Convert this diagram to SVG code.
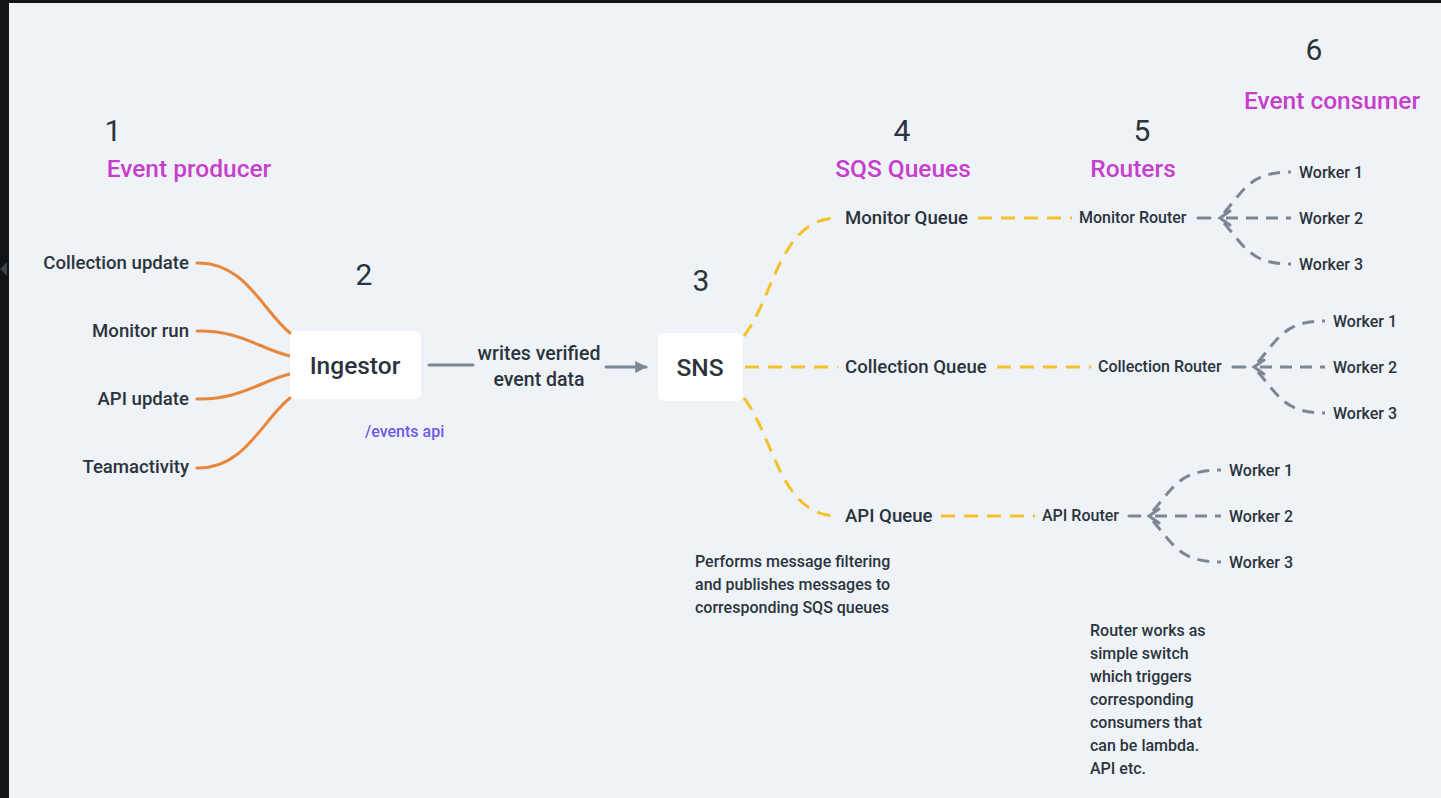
<svg xmlns="http://www.w3.org/2000/svg" width="1441" height="798" viewBox="0 0 1441 798">
<defs>
<style>
.t{font-family:Roboto,"Liberation Sans",sans-serif;fill:#2b333d;font-weight:500}
.num{font-size:30px;font-weight:400}
.hd{font-size:24.5px;fill:#c63fcc}
.lb{font-size:18.6px}
.sm{font-size:16px}
.or{fill:none;stroke:#e8873c;stroke-width:3;stroke-linecap:round}
.ye{fill:none;stroke:#f5c12b;stroke-width:3;stroke-dasharray:14 9}
.gr{fill:none;stroke:#7b8794;stroke-width:3;stroke-dasharray:12 8}
.gs{fill:none;stroke:#7b8794;stroke-width:3;stroke-linecap:round}
.box{fill:#ffffff}
</style>
<marker id="ah" viewBox="0 0 10 10" refX="9" refY="5" markerWidth="4" markerHeight="4" orient="auto"><path d="M0,0 L10,5 L0,10 z" fill="#7b8794"/></marker>
</defs>
<rect x="0" y="0" width="1441" height="798" fill="#eff3f7"/>
<rect x="0" y="0" width="1441" height="3" fill="#0e1418"/>
<rect x="0" y="0" width="9" height="798" fill="#0e1418"/>
<path d="M7,262 L0,269 L7,276 z" fill="#3c434a"/>

<g id="headers">
<text class="t num" x="113" y="141" text-anchor="middle">1</text>
<text class="t hd" x="189" y="177" text-anchor="middle">Event producer</text>
<text class="t num" x="364" y="285" text-anchor="middle">2</text>
<text class="t num" x="701" y="291" text-anchor="middle">3</text>
<text class="t num" x="902" y="141" text-anchor="middle">4</text>
<text class="t hd" x="903" y="177" text-anchor="middle">SQS Queues</text>
<text class="t num" x="1142" y="141" text-anchor="middle">5</text>
<text class="t hd" x="1133" y="177" text-anchor="middle">Routers</text>
<text class="t num" x="1314" y="60" text-anchor="middle">6</text>
<text class="t hd" x="1332" y="109" text-anchor="middle">Event consumer</text>
</g>

<g id="connectors">
<path class="or" d="M197,263 C245,262 262,310 290,333"/>
<path class="or" d="M197,331 C240,330 260,349 290,356"/>
<path class="or" d="M197,399 C240,400 260,381 290,374"/>
<path class="or" d="M197,468 C245,469 262,420 290,398"/>
<path class="gs" d="M429,365 L473,365"/>
<path class="gs" d="M606,367 L646,367" marker-end="url(#ah)"/>
<path class="ye" d="M744,336 C775,295 780,218 838,218"/>
<path class="ye" d="M745,367 L838,367"/>
<path class="ye" d="M744,398 C775,439 780,516 838,516"/>
<path class="ye" d="M978,218 L1072,218"/>
<path class="ye" d="M997,367 L1091,367"/>
<path class="ye" d="M941,516 L1035,516"/>
<path class="gs" d="M1198,218 L1210,218"/>
<path class="gs" d="M1230,211 L1220,218 L1230,225"/>
<path class="gr" d="M1224,213 C1245,188 1252,172 1291,172"/>
<path class="gr" d="M1226,218 L1291,218"/>
<path class="gr" d="M1224,223 C1245,248 1252,264 1291,264"/>
<path class="gs" d="M1233,367 L1245,367"/>
<path class="gs" d="M1264,360 L1254,367 L1264,374"/>
<path class="gr" d="M1258,362 C1279,337 1286,321 1325,321"/>
<path class="gr" d="M1260,367 L1325,367"/>
<path class="gr" d="M1258,372 C1279,397 1286,413 1325,413"/>
<path class="gs" d="M1129,516 L1140,516"/>
<path class="gs" d="M1159,509 L1149,516 L1159,523"/>
<path class="gr" d="M1153,511 C1174,486 1181,470 1221,470"/>
<path class="gr" d="M1155,516 L1221,516"/>
<path class="gr" d="M1153,521 C1174,546 1181,562 1221,562"/>
</g>

<g id="producers">
<text class="t lb" x="189" y="269" text-anchor="end">Collection update</text>
<text class="t lb" x="189" y="337" text-anchor="end">Monitor run</text>
<text class="t lb" x="189" y="405" text-anchor="end">API update</text>
<text class="t lb" x="189" y="473" text-anchor="end">Teamactivity</text>
</g>

<g id="ingestor">
<rect class="box" x="290" y="331" width="131" height="68" rx="6"/>
<text class="t" x="355" y="374" font-size="24.5" text-anchor="middle">Ingestor</text>
<text class="t" x="365" y="437" font-size="16" style="fill:#6b5be6">/events api</text>
</g>

<g id="edge-label">
<text class="t" x="539" y="360" font-size="19.5" text-anchor="middle">writes verified</text>
<text class="t" x="539" y="386" font-size="19.5" text-anchor="middle">event data</text>
</g>

<g id="sns">
<rect class="box" x="658" y="333" width="85" height="68" rx="6"/>
<text class="t" x="700" y="376" font-size="24.5" text-anchor="middle">SNS</text>
</g>

<g id="queues">
<text class="t lb" x="845" y="224">Monitor Queue</text>
<text class="t lb" x="845" y="373">Collection Queue</text>
<text class="t lb" x="845" y="522">API Queue</text>
</g>

<g id="routers">
<text class="t sm" x="1079" y="223">Monitor Router</text>
<text class="t sm" x="1098" y="372">Collection Router</text>
<text class="t sm" x="1042" y="521">API Router</text>
</g>

<g id="workers">
<text class="t sm" x="1299" y="178">Worker 1</text>
<text class="t sm" x="1299" y="224">Worker 2</text>
<text class="t sm" x="1299" y="270">Worker 3</text>
<text class="t sm" x="1333" y="327">Worker 1</text>
<text class="t sm" x="1333" y="373">Worker 2</text>
<text class="t sm" x="1333" y="419">Worker 3</text>
<text class="t sm" x="1229" y="476">Worker 1</text>
<text class="t sm" x="1229" y="522">Worker 2</text>
<text class="t sm" x="1229" y="568">Worker 3</text>
</g>

<g id="notes">
<text class="t sm" x="695" y="567">Performs message filtering</text>
<text class="t sm" x="695" y="590">and publishes messages to</text>
<text class="t sm" x="695" y="613">corresponding SQS queues</text>
<text class="t sm" x="1090" y="636">Router works as</text>
<text class="t sm" x="1090" y="659">simple switch</text>
<text class="t sm" x="1090" y="682">which triggers</text>
<text class="t sm" x="1090" y="705">corresponding</text>
<text class="t sm" x="1090" y="728">consumers that</text>
<text class="t sm" x="1090" y="751">can be lambda.</text>
<text class="t sm" x="1090" y="774">API etc.</text>
</g>
</svg>
